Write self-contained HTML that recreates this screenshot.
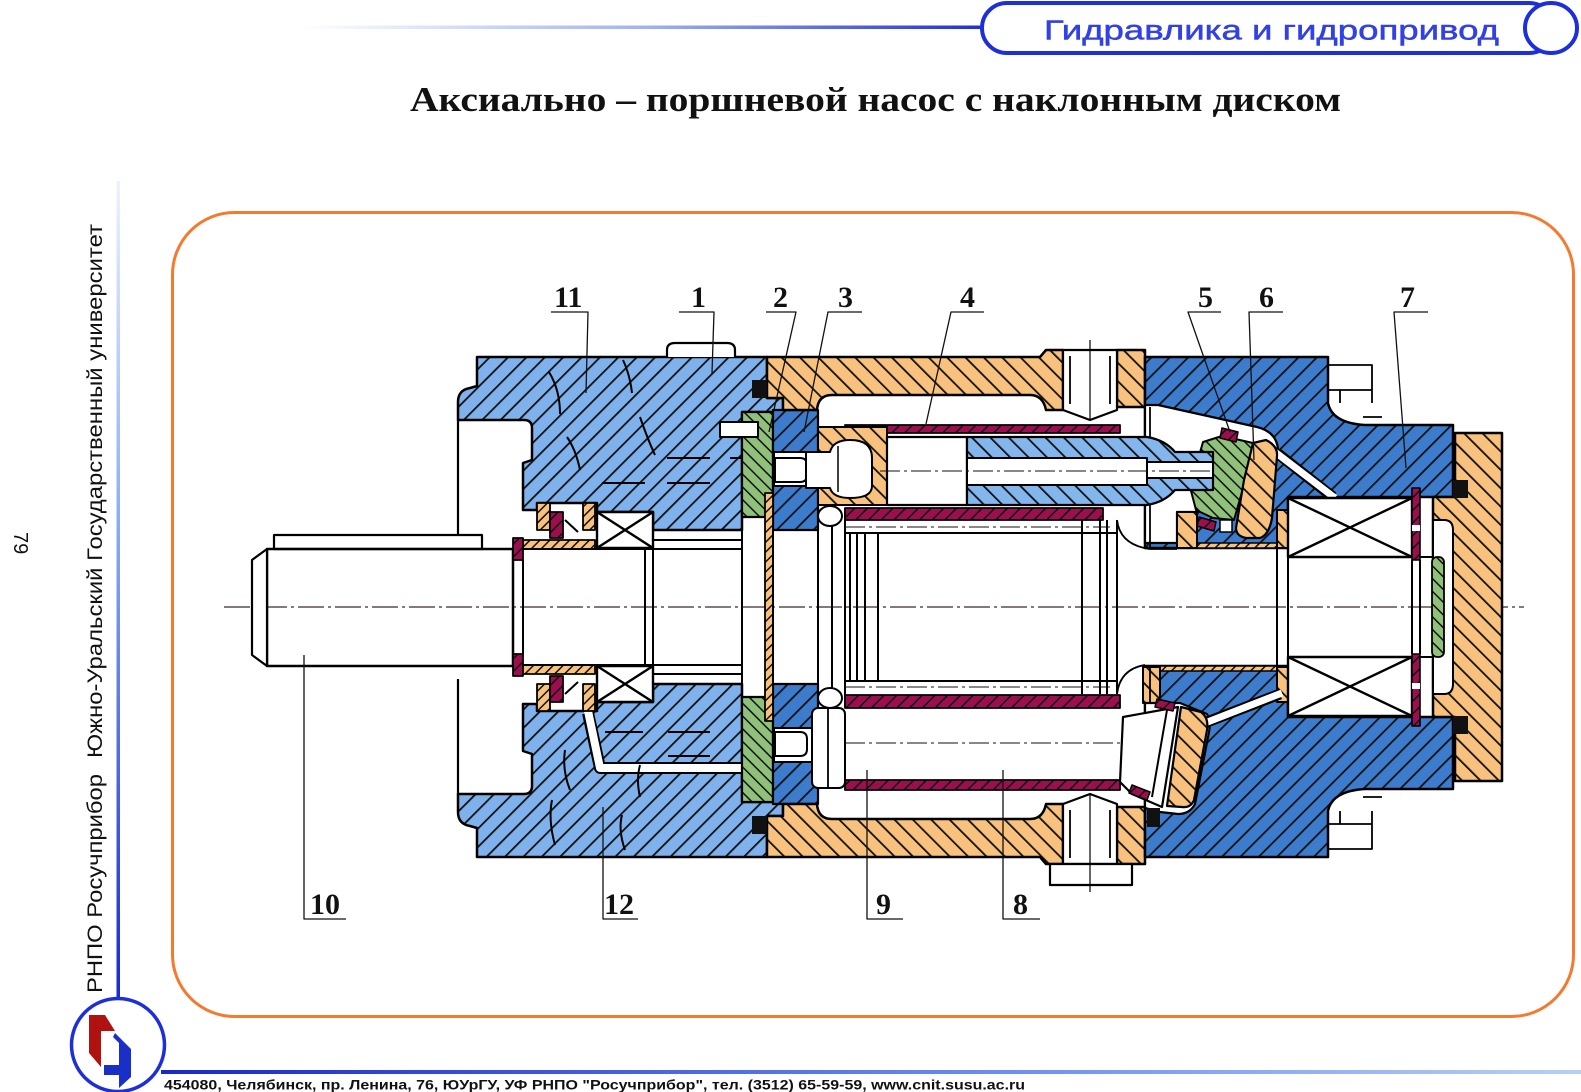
<!DOCTYPE html>
<html><head><meta charset="utf-8"><style>html,body{margin:0;padding:0;background:#fff}svg{display:block}</style></head>
<body>
<svg width="1581" height="1092" viewBox="0 0 1581 1092" xmlns="http://www.w3.org/2000/svg">
<defs>
 <linearGradient id="gTop" x1="0" x2="1" y1="0" y2="0"><stop offset="0" stop-color="#ffffff"/><stop offset="0.5" stop-color="#9fb4f0"/><stop offset="1" stop-color="#1d2fd8"/></linearGradient>
 <linearGradient id="gLeft" x1="0" y1="0" x2="0" y2="1"><stop offset="0" stop-color="#eef2fd"/><stop offset="0.4" stop-color="#8fb0f0"/><stop offset="1" stop-color="#1a28c8"/></linearGradient>
 <linearGradient id="gFoot" x1="0" x2="1" y1="0" y2="0"><stop offset="0" stop-color="#1a28c8"/><stop offset="0.6" stop-color="#6f8ff0"/><stop offset="1" stop-color="#b8d0f6"/></linearGradient>
 <pattern id="pLB" patternUnits="userSpaceOnUse" width="13" height="13" patternTransform="rotate(45)"><rect width="13" height="13" fill="#7fb2ec"/><rect width="1.8" height="13" fill="#111"/></pattern>
 <pattern id="pDB" patternUnits="userSpaceOnUse" width="13" height="13" patternTransform="rotate(45)"><rect width="13" height="13" fill="#3d7ccc"/><rect width="1.8" height="13" fill="#111"/></pattern>
 <pattern id="pPB" patternUnits="userSpaceOnUse" width="13" height="13" patternTransform="rotate(-45)"><rect width="13" height="13" fill="#84b6ee"/><rect width="1.8" height="13" fill="#111"/></pattern>
 <pattern id="pOR" patternUnits="userSpaceOnUse" width="13" height="13" patternTransform="rotate(-45)"><rect width="13" height="13" fill="#f8c27e"/><rect width="1.8" height="13" fill="#111"/></pattern>
 <pattern id="pOR2" patternUnits="userSpaceOnUse" width="7" height="7" patternTransform="rotate(45)"><rect width="7" height="7" fill="#f8c27e"/><rect width="1.5" height="7" fill="#111"/></pattern>
 <pattern id="pMG" patternUnits="userSpaceOnUse" width="9" height="9" patternTransform="rotate(45)"><rect width="9" height="9" fill="#9c0f4e"/><rect width="1.5" height="9" fill="#111"/></pattern>
 <pattern id="pGR" patternUnits="userSpaceOnUse" width="9" height="9" patternTransform="rotate(-45)"><rect width="9" height="9" fill="#8fc17b"/><rect width="1.5" height="9" fill="#111"/></pattern>
</defs>

<rect width="1581" height="1092" fill="#fff"/>

<!-- header -->
<rect x="302" y="25.5" width="684" height="3.5" fill="url(#gTop)"/>
<rect x="982" y="3" width="572" height="50" rx="25" fill="#fff" stroke="#1d2fd8" stroke-width="4"/>
<ellipse cx="1551" cy="28" rx="26" ry="25" fill="#fff" stroke="#1d2fd8" stroke-width="4"/>
<text x="1044" y="39.5" font-family="Liberation Sans, DejaVu Sans, sans-serif" font-size="28" fill="#3242e2" stroke="#3242e2" stroke-width="0.5" textLength="455" lengthAdjust="spacingAndGlyphs">Гидравлика  и  гидропривод</text>

<!-- title -->
<text x="410" y="111" font-family="Liberation Serif, serif" font-weight="bold" font-size="34.5" fill="#111" textLength="931" lengthAdjust="spacingAndGlyphs">Аксиально – поршневой насос с наклонным диском</text>

<!-- left vertical band -->
<rect x="116.5" y="181" width="3.5" height="819" fill="url(#gLeft)"/>
<text transform="translate(102,993) rotate(-90)" font-family="Liberation Sans, DejaVu Sans, sans-serif" font-size="21" fill="#111" textLength="219" lengthAdjust="spacingAndGlyphs">РНПО Росучприбор</text>
<text transform="translate(102,758) rotate(-90)" font-family="Liberation Sans, DejaVu Sans, sans-serif" font-size="21" fill="#111" textLength="534" lengthAdjust="spacingAndGlyphs">Южно-Уральский  Государственный  университет</text>
<text transform="translate(14,532) rotate(90)" font-family="Liberation Sans, sans-serif" font-size="20" fill="#111">79</text>

<!-- frame -->
<rect x="172.5" y="212.5" width="1401" height="804" rx="62" fill="none" stroke="#f47a30" stroke-width="3"/>

<!-- footer -->
<rect x="161" y="1070" width="1420" height="4" fill="url(#gFoot)"/>
<text x="164" y="1089.5" font-family="Liberation Sans Narrow, Liberation Sans, sans-serif" font-weight="bold" font-size="14" fill="#111" textLength="861" lengthAdjust="spacingAndGlyphs">454080, Челябинск, пр. Ленина, 76, ЮУрГУ, УФ РНПО "Росучприбор", тел. (3512) 65-59-59, www.cnit.susu.ac.ru</text>

<!-- logo -->
<circle cx="118" cy="1045" r="46.5" fill="#fff" stroke="#1d2fd8" stroke-width="3.5"/>
<polygon points="89,1015 105,1015 115,1031 101,1031 101,1067 89,1053" fill="#b01212"/>
<polygon points="115,1033 131,1049 131,1077 119,1088 119,1075 104,1075 104,1065 119,1065 119,1043 113,1037" fill="#1a2fc8"/>

<!-- ================= DRAWING ================= -->
<g stroke-linejoin="round">

<!-- centerline -->
<line x1="224" y1="607" x2="1524" y2="607" stroke="#3a2a2a" stroke-width="1.2" stroke-dasharray="26 4 3 4"/>

<!-- shaft left -->
<rect x="274" y="535" width="208" height="14" fill="#fff" stroke="#000" stroke-width="2.2"/>
<rect x="267" y="549" width="246" height="117" fill="none" stroke="#000" stroke-width="2.5"/>
<polygon points="252,560 267,549 267,666 252,655" fill="#fff" stroke="#000" stroke-width="2.2"/>
<line x1="458" y1="420" x2="458" y2="535" stroke="#000" stroke-width="2.2"/>
<line x1="458" y1="679" x2="458" y2="794" stroke="#000" stroke-width="2.2"/>

<!-- left housing -->
<path d="M477,357 H767 V398 H783 V412 H742 V530 H653 V512 H597 V503 H537 V510 H523 V463 L532,460 V428 Q532,420 524,420 H458 V402 Q458,390 470,388 L477,386 Z" fill="url(#pLB)" stroke="#000" stroke-width="2.5"/>
<path d="M477,857 H767 V816 H783 V802 H742 V684 H653 V702 H597 V711 H537 V704 H523 V751 L532,754 V786 Q532,794 524,794 H458 V812 Q458,824 470,826 L477,828 Z" fill="url(#pLB)" stroke="#000" stroke-width="2.5"/>
<path d="M667,357 V350 Q667,343 675,343 H727 Q735,343 735,350 V357" fill="#fff" stroke="#000" stroke-width="2.2"/>
<!-- lower channel -->
<polyline points="588,713 600,768 742,768" fill="none" stroke="#000" stroke-width="12"/>
<polyline points="588,711 600,768 744,768" fill="none" stroke="#fff" stroke-width="8"/>
<!-- hidden lines & break lines -->
<g stroke="#000" stroke-width="2" fill="none">
 <line x1="667" y1="458" x2="710" y2="458"/><line x1="730" y1="458" x2="742" y2="458"/>
 <line x1="602" y1="483" x2="645" y2="483"/><line x1="667" y1="483" x2="710" y2="483"/>
 <line x1="605" y1="732" x2="643" y2="732"/><line x1="668" y1="732" x2="710" y2="732"/>
 <line x1="668" y1="756" x2="710" y2="756"/>
 <path d="M549,372 Q560,390 560,414"/><path d="M623,360 Q630,375 632,393"/>
 <path d="M567,437 Q576,450 580,470"/><path d="M640,417 Q648,440 655,455"/>
 <path d="M570,790 Q562,770 565,750"/><path d="M640,765 Q636,780 640,797"/>
 <path d="M555,845 Q548,820 552,800"/><path d="M625,850 Q618,830 622,815"/>
</g>

<!-- seals / sleeve left -->
<rect x="513" y="538" width="10" height="22" fill="url(#pMG)" stroke="#000" stroke-width="1.8"/>
<rect x="513" y="654" width="10" height="22" fill="url(#pMG)" stroke="#000" stroke-width="1.8"/>
<line x1="513" y1="560" x2="513" y2="654" stroke="#000" stroke-width="2"/>
<line x1="523" y1="560" x2="523" y2="654" stroke="#000" stroke-width="2"/>
<rect x="523" y="540" width="72" height="9" fill="url(#pOR2)" stroke="#000" stroke-width="1.8"/>
<rect x="523" y="665" width="72" height="9" fill="url(#pOR2)" stroke="#000" stroke-width="1.8"/>
<rect x="537" y="503" width="13" height="27" fill="url(#pOR2)" stroke="#000" stroke-width="1.8"/>
<rect x="583" y="503" width="12" height="27" fill="url(#pOR2)" stroke="#000" stroke-width="1.8"/>
<rect x="550" y="512" width="13" height="26" fill="url(#pMG)" stroke="#000" stroke-width="1.8"/>
<rect x="537" y="684" width="13" height="27" fill="url(#pOR2)" stroke="#000" stroke-width="1.8"/>
<rect x="583" y="684" width="12" height="27" fill="url(#pOR2)" stroke="#000" stroke-width="1.8"/>
<rect x="550" y="676" width="13" height="26" fill="url(#pMG)" stroke="#000" stroke-width="1.8"/>
<line x1="565" y1="520" x2="578" y2="532" stroke="#000" stroke-width="2"/>
<line x1="565" y1="694" x2="578" y2="682" stroke="#000" stroke-width="2"/>
<!-- left bearing -->
<g fill="#fff" stroke="#000" stroke-width="2.4">
 <rect x="597" y="512" width="56" height="36"/><path d="M597,512 L653,548 M653,512 L597,548" fill="none"/>
 <rect x="597" y="666" width="56" height="36"/><path d="M597,666 L653,702 M653,666 L597,702" fill="none"/>
</g>
<g stroke="#000" stroke-width="2" fill="none">
 <line x1="645" y1="548" x2="645" y2="666"/><line x1="653" y1="548" x2="653" y2="666"/>
 <line x1="523" y1="549" x2="742" y2="549"/><line x1="523" y1="665" x2="742" y2="665"/>
 <line x1="653" y1="540" x2="742" y2="540"/><line x1="653" y1="674" x2="742" y2="674"/>
 <line x1="742" y1="517" x2="742" y2="697"/>
</g>

<!-- green part 2 -->
<rect x="742" y="412" width="31" height="105" fill="url(#pGR)" stroke="#000" stroke-width="2.2"/>
<rect x="742" y="697" width="31" height="105" fill="url(#pGR)" stroke="#000" stroke-width="2.2"/>
<rect x="720" y="422" width="38" height="15" fill="#fff" stroke="#000" stroke-width="2"/>
<!-- dark blue part 3 -->
<rect x="773" y="410" width="45" height="120" fill="url(#pDB)" stroke="#000" stroke-width="2.2"/>
<rect x="773" y="684" width="45" height="120" fill="url(#pDB)" stroke="#000" stroke-width="2.2"/>
<rect x="774" y="452" width="44" height="34" fill="#fff" stroke="#000" stroke-width="2"/>
<rect x="774" y="728" width="44" height="34" fill="#fff" stroke="#000" stroke-width="2"/>
<path d="M775,458 H800 Q807,458 807,465 V475 Q807,482 800,482 H775 Z" fill="#fff" stroke="#000" stroke-width="2"/>
<path d="M775,732 H800 Q807,732 807,739 V749 Q807,756 800,756 H775 Z" fill="#fff" stroke="#000" stroke-width="2"/>
<!-- thin plate -->
<rect x="765" y="493" width="8" height="228" fill="url(#pOR2)" stroke="#000" stroke-width="1.8"/>

<!-- orange casing -->
<path d="M767,357 H1040 L1046,350 H1063 V410 H1046 Q1043,395 1030,395 H832 Q818,395 817,410 H783 V398 H767 Z" fill="url(#pOR)" stroke="#000" stroke-width="2.5"/>
<rect x="1117" y="350" width="28" height="57" fill="url(#pOR)" stroke="#000" stroke-width="2.5"/>
<path d="M1063,350 H1117 V410 L1090,420 L1063,410 Z" fill="#fff" stroke="#000" stroke-width="2.2"/>
<path d="M767,857 H1040 L1046,864 H1063 V804 H1046 Q1043,819 1030,819 H832 Q818,819 817,804 H783 V816 H767 Z" fill="url(#pOR)" stroke="#000" stroke-width="2.5"/>
<rect x="1117" y="807" width="28" height="57" fill="url(#pOR)" stroke="#000" stroke-width="2.5"/>
<path d="M1063,864 H1117 V804 L1090,794 L1063,804 Z" fill="#fff" stroke="#000" stroke-width="2.2"/>
<rect x="1050" y="864" width="82" height="21" fill="#fff" stroke="#000" stroke-width="2.2"/>
<g stroke="#000" stroke-width="1.8">
 <line x1="1070" y1="356" x2="1070" y2="404"/><line x1="1110" y1="356" x2="1110" y2="404"/>
 <line x1="1070" y1="810" x2="1070" y2="858"/><line x1="1110" y1="810" x2="1110" y2="858"/>
 <line x1="1090" y1="340" x2="1090" y2="420" stroke-width="1.2"/>
 <line x1="1090" y1="794" x2="1090" y2="892" stroke-width="1.2"/>
</g>
<!-- black seals -->
<g fill="#111">
 <rect x="752" y="380" width="15" height="18"/><rect x="752" y="816" width="15" height="18"/>
 <rect x="1146" y="385" width="13" height="18"/><rect x="1146" y="808" width="13" height="19"/>
</g>

<!-- cylinder block / liners -->
<rect x="845" y="425" width="275" height="8" fill="url(#pMG)" stroke="#000" stroke-width="1.8"/>
<rect x="845" y="508" width="258" height="12" fill="url(#pMG)" stroke="#000" stroke-width="1.8"/>
<rect x="845" y="695" width="275" height="13" fill="url(#pMG)" stroke="#000" stroke-width="1.8"/>
<rect x="845" y="780" width="275" height="10" fill="url(#pMG)" stroke="#000" stroke-width="1.8"/>
<g stroke="#000" stroke-width="2" fill="none">
 <line x1="845" y1="533" x2="1117" y2="533"/><line x1="845" y1="681" x2="1117" y2="681"/>
 <line x1="850" y1="533" x2="850" y2="681"/><line x1="857" y1="533" x2="857" y2="681"/>
 <line x1="865" y1="533" x2="865" y2="681"/><line x1="878" y1="533" x2="878" y2="681"/>
 <line x1="1082" y1="520" x2="1082" y2="694"/><line x1="1100" y1="520" x2="1100" y2="694"/>
 <line x1="1107" y1="520" x2="1107" y2="694"/><line x1="1117" y1="520" x2="1117" y2="694"/>
 <line x1="818" y1="530" x2="818" y2="684"/><line x1="832" y1="525" x2="832" y2="689"/>
 <line x1="845" y1="508" x2="845" y2="708"/>
 <line x1="773" y1="530" x2="773" y2="684"/>
</g>
<g stroke="#111" stroke-width="1.1" stroke-dasharray="20 4 3 4">
 <line x1="845" y1="527" x2="1110" y2="527"/><line x1="845" y1="687" x2="1110" y2="687"/>
 <line x1="845" y1="743" x2="1125" y2="743"/>
</g>
<g fill="#fff" stroke="#000" stroke-width="2">
 <ellipse cx="830" cy="516" rx="12" ry="10"/><ellipse cx="830" cy="698" rx="12" ry="10"/>
 <rect x="812" y="708" width="33" height="80" rx="6"/>
</g>
<line x1="828" y1="708" x2="828" y2="788" stroke="#000" stroke-width="1.8"/>

<!-- right housing upper -->
<path d="M1145,357 H1328 V403 Q1332,423 1365,425 H1453 V497 H1288 V548 H1145 Z" fill="url(#pDB)" stroke="#000" stroke-width="2.5"/>
<path d="M1145,405 H1158 L1257,427 Q1277,432 1278,450 L1252,497 L1197,512 H1177 V543 H1145 Z" fill="#fff" stroke="#000" stroke-width="2.2"/>
<rect x="1177" y="543" width="100" height="5" fill="url(#pOR2)" stroke="#000" stroke-width="1.5"/>
<rect x="1177" y="512" width="20" height="36" fill="url(#pOR)" stroke="#000" stroke-width="2"/>
<rect x="1277" y="510" width="11" height="38" fill="url(#pOR)" stroke="#000" stroke-width="2"/>
<line x1="1277" y1="453" x2="1333" y2="497" stroke="#000" stroke-width="11"/>
<line x1="1275" y1="452" x2="1335" y2="498" stroke="#fff" stroke-width="7"/>
<path d="M1203,442 L1222,436 L1253,443 L1246,478 L1234,520 L1213,518 L1196,510 L1190,487 L1197,463 Z" fill="url(#pGR)" stroke="#000" stroke-width="2"/>
<path d="M1253,443 L1266,440 Q1278,446 1277,456 L1272,518 Q1269,535 1260,538 L1246,538 Q1236,536 1236,528 L1244,480 Z" fill="url(#pOR)" stroke="#000" stroke-width="2.2"/>
<polygon points="1222,428 1238,432 1236,442 1220,438" fill="url(#pMG)" stroke="#000" stroke-width="1.5"/>
<polygon points="1199,517 1216,522 1214,531 1197,526" fill="url(#pMG)" stroke="#000" stroke-width="1.5"/>
<rect x="1220" y="520" width="12" height="12" fill="#fff" stroke="#000" stroke-width="1.5"/>
<!-- right housing lower -->
<path d="M1145,857 H1328 V811 Q1332,791 1365,789 H1453 V717 H1288 V666 H1145 Z" fill="url(#pDB)" stroke="#000" stroke-width="2.5"/>
<rect x="1157" y="666" width="120" height="5" fill="url(#pOR2)" stroke="#000" stroke-width="1.5"/>
<rect x="1143" y="667" width="17" height="36" fill="url(#pOR)" stroke="#000" stroke-width="2"/>
<rect x="1277" y="667" width="11" height="35" fill="url(#pOR)" stroke="#000" stroke-width="2"/>
<path d="M1145,703 H1180 L1207,714 Q1211,722 1209,732 L1195,804 Q1190,814 1178,814 L1160,812 L1145,808 Z" fill="#fff" stroke="#000" stroke-width="2.2"/>
<line x1="1207" y1="722" x2="1280" y2="694" stroke="#000" stroke-width="11"/>
<line x1="1205" y1="723" x2="1282" y2="693" stroke="#fff" stroke-width="7"/>
<path d="M1181,707 L1201,712 Q1209,718 1207,730 L1194,800 Q1191,808 1182,807 L1167,806 Z" fill="url(#pOR)" stroke="#000" stroke-width="2.2"/>
<path d="M1123,717 L1178,707 L1162,807 L1132,794 L1120,782 Z" fill="#fff" stroke="#000" stroke-width="2.2"/>
<line x1="1167" y1="710" x2="1152" y2="797" stroke="#000" stroke-width="2"/>
<polygon points="1157,699 1175,703 1173,711 1155,707" fill="url(#pMG)" stroke="#000" stroke-width="1.5"/>
<polygon points="1132,785 1150,792 1147,800 1129,793" fill="url(#pMG)" stroke="#000" stroke-width="1.5"/>
<rect x="1147" y="808" width="13" height="19" fill="#111"/>
<g stroke="#000" stroke-width="1.8" fill="none">
 <line x1="1150" y1="407" x2="1150" y2="548"/><line x1="1150" y1="666" x2="1150" y2="703"/>
 <path d="M1117,520 Q1120,545 1150,549 H1177"/><path d="M1117,694 Q1120,669 1145,665"/>
 <path d="M1328,365 H1372 V403 M1328,390 H1372 M1340,390 V403 M1363,417 H1382"/>
 <path d="M1328,849 H1372 V811 M1328,824 H1372 M1340,824 V811 M1363,797 H1382"/>
</g>

<!-- upper piston 4 -->
<rect x="818" y="427" width="69" height="78" fill="url(#pOR)" stroke="#000" stroke-width="2"/>
<path d="M806,452 H830 Q833,440 850,440 Q872,440 872,458 V486 Q872,498 850,498 Q833,498 830,488 H806 Z" fill="#fff" stroke="#000" stroke-width="2"/>
<line x1="838" y1="446" x2="838" y2="492" stroke="#000" stroke-width="1.5"/>
<rect x="887" y="437" width="80" height="68" fill="#fff" stroke="#000" stroke-width="2.2"/>
<path d="M967,437 H1147 Q1165,440 1175,452 H1213 V490 H1175 Q1165,502 1147,505 H967 Z" fill="url(#pPB)" stroke="#000" stroke-width="2.2"/>
<rect x="967" y="458" width="180" height="27" fill="#fff" stroke="#000" stroke-width="2"/>
<rect x="1147" y="462" width="66" height="16" fill="#fff" stroke="#000" stroke-width="2"/>
<line x1="880" y1="471" x2="1213" y2="471" stroke="#111" stroke-width="1.1" stroke-dasharray="20 4 3 4"/>

<!-- right cover -->
<path d="M1455,433 H1502 V781 H1455 V717 H1433 V497 H1455 Z" fill="url(#pOR)" stroke="#000" stroke-width="2.5"/>
<path d="M1433,520 H1444 Q1453,520 1453,530 V684 Q1453,694 1444,694 H1433 Z" fill="#fff" stroke="#000" stroke-width="2"/>
<rect x="1432" y="557" width="12" height="100" rx="5" fill="url(#pGR)" stroke="#000" stroke-width="1.8"/>
<rect x="1453" y="480" width="15" height="18" fill="#111"/>
<rect x="1453" y="716" width="15" height="18" fill="#111"/>

<!-- right bearing + shaft end -->
<g fill="#fff" stroke="#000" stroke-width="2.4">
 <rect x="1288" y="498" width="124" height="59"/><path d="M1288,498 L1412,557 M1412,498 L1288,557" fill="none"/>
 <rect x="1288" y="657" width="124" height="59"/><path d="M1288,657 L1412,716 M1412,657 L1288,716" fill="none"/>
</g>
<rect x="1412" y="488" width="8" height="72" fill="url(#pMG)" stroke="#000" stroke-width="1.6"/>
<rect x="1412" y="654" width="8" height="72" fill="url(#pMG)" stroke="#000" stroke-width="1.6"/>
<rect x="1412" y="525" width="8" height="6" fill="#fff"/><rect x="1412" y="683" width="8" height="6" fill="#fff"/>
<g stroke="#000" stroke-width="2" fill="none">
 <line x1="1277" y1="548" x2="1277" y2="666"/><line x1="1288" y1="557" x2="1288" y2="657"/>
 <line x1="1412" y1="560" x2="1412" y2="654"/><line x1="1420" y1="560" x2="1420" y2="654"/>
 <line x1="1420" y1="557" x2="1433" y2="557"/><line x1="1420" y1="657" x2="1433" y2="657"/>
</g>

<!-- leaders -->
<g stroke="#111" stroke-width="1.3" fill="none">
 <polyline points="551,312 588,312 586,393"/>
 <polyline points="679,312 714,312 712,373"/>
 <polyline points="766,312 796,312 769,432"/>
 <polyline points="862,312 828,312 804,432"/>
 <polyline points="984,312 951,312 926,424"/>
 <polyline points="1221,312 1188,312 1230,432"/>
 <polyline points="1283,312 1249,312 1254,460"/>
 <polyline points="1428,312 1394,312 1406,468"/>
 <polyline points="346,919 304,919 304,655"/>
 <polyline points="638,919 603,919 603,807"/>
 <polyline points="903,919 867,919 867,770"/>
 <polyline points="1040,919 1003,919 1003,770"/>
</g>
<g font-family="Liberation Serif, serif" font-weight="bold" font-size="30" fill="#111">
 <text x="554" y="307">11</text>
 <text x="691" y="307">1</text>
 <text x="773" y="307">2</text>
 <text x="838" y="307">3</text>
 <text x="960" y="307">4</text>
 <text x="1198" y="307">5</text>
 <text x="1259" y="307">6</text>
 <text x="1400" y="307">7</text>
 <text x="310" y="914">10</text>
 <text x="604" y="914">12</text>
 <text x="876" y="914">9</text>
 <text x="1013" y="914">8</text>
</g>
</g>
</svg>
</body></html>
